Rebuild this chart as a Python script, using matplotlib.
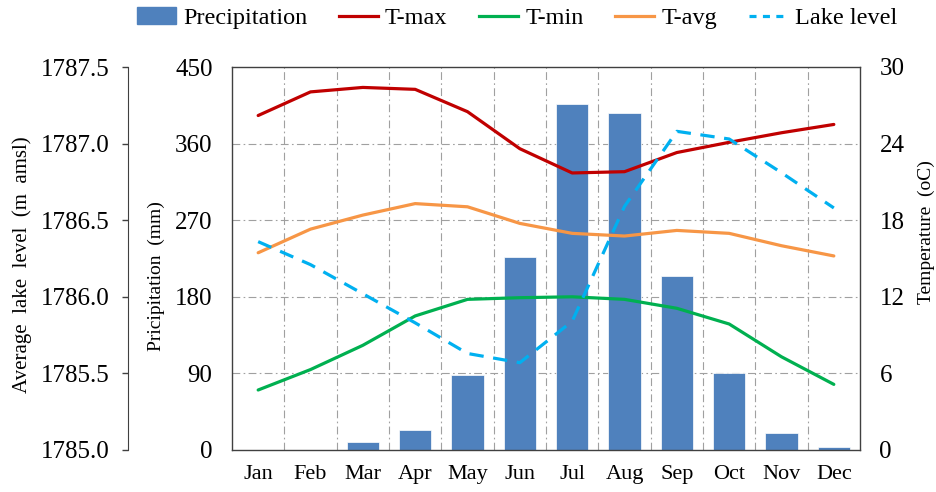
import numpy as np
import matplotlib
matplotlib.use("Agg")
import matplotlib.pyplot as plt
from matplotlib.patches import Patch
from matplotlib.lines import Line2D

plt.rcParams['font.family'] = ['Liberation Serif', 'DejaVu Serif']

months = ["Jan", "Feb", "Mar", "Apr", "May", "Jun",
          "Jul", "Aug", "Sep", "Oct", "Nov", "Dec"]
precip = [0, 0, 9, 23, 88, 227, 407, 396, 204, 91, 20, 4]
t_max = [26.2, 28.05, 28.4, 28.25, 26.5, 23.6, 21.7, 21.8, 23.3, 24.1, 24.85, 25.5]
t_min = [4.7, 6.3, 8.2, 10.5, 11.8, 11.93, 12.0, 11.8, 11.1, 9.87, 7.3, 5.14]
t_avg = [15.45, 17.3, 18.4, 19.3, 19.05, 17.75, 16.97, 16.76, 17.2, 16.97, 16.0, 15.2]
lake = [1786.36, 1786.21, 1786.02, 1785.83, 1785.63, 1785.57,
        1785.84, 1786.59, 1787.08, 1787.03, 1786.81, 1786.58]

FS_Y = 18
FS_X = 16
FS_LEG = 17.5
frame_col = "#404040"
grid_kw = dict(color="#a0a0a0", lw=0.8, linestyle=(0, (7, 3, 1.5, 3)))

fig = plt.figure(figsize=(9.36, 4.92), dpi=100)
ax = fig.add_axes([232 / 936, 42 / 492, 628 / 936, 383 / 492])
x = np.arange(len(months))

# precipitation bars on the main axis
ax.bar(x, precip, width=0.62, color="#4f81bd", edgecolor="white", linewidth=0.5, zorder=2)
ax.set_xlim(-0.5, 11.5)
ax.set_ylim(0, 450)
ax.set_yticks([0, 90, 180, 270, 360, 450])
ax.set_xticks(x)
ax.set_xticklabels(months)
ax.tick_params(axis="y", length=0, pad=14, labelsize=FS_Y)
ax.tick_params(axis="x", length=0, pad=11, labelsize=FS_X)
for v in [90, 180, 270, 360]:
    ax.axhline(v, zorder=0, **grid_kw)
for v in np.arange(0.5, 11.5, 1):
    ax.axvline(v, zorder=0, **grid_kw)
for s in ax.spines.values():
    s.set_color(frame_col)
    s.set_linewidth(1.0)
ax.set_ylabel("Pricipitation  (mm)", fontsize=14, va="center")
ax.yaxis.set_label_coords(-0.121, 0.454)

# temperature on the right
axt = ax.twinx()
axt.plot(x, t_max, color="#c00000", lw=2.3, solid_capstyle="round")
axt.plot(x, t_min, color="#00b050", lw=2.3, solid_capstyle="round")
axt.plot(x, t_avg, color="#f79646", lw=2.3, solid_capstyle="round")
axt.set_ylim(0, 30)
axt.set_yticks([0, 6, 12, 18, 24, 30])
axt.tick_params(axis="y", length=0, pad=14, labelsize=FS_Y)
for s in axt.spines.values():
    s.set_visible(False)
axt.set_ylabel("Temperature  (oC)", fontsize=14, va="center")
axt.yaxis.set_label_coords(1.105, 0.569)

# lake level on an offset left axis
axl = ax.twinx()
axl.plot(x, lake, color="#00b0f0", lw=2.3, dashes=(4.5, 3.0))
axl.set_ylim(1785.0, 1787.5)
axl.set_yticks([1785.0, 1785.5, 1786.0, 1786.5, 1787.0, 1787.5])
axl.set_yticklabels(["%.1f" % v for v in axl.get_yticks()])
axl.yaxis.set_ticks_position("left")
axl.yaxis.set_label_position("left")
for name, s in axl.spines.items():
    s.set_visible(name == "left")
axl.spines["left"].set_position(("outward", 75))
axl.spines["left"].set_color(frame_col)
axl.tick_params(axis="y", direction="out", length=4, width=1, color=frame_col,
                pad=9, labelsize=FS_Y)
axl.set_ylabel("Average  lake  level  (m  amsl)", fontsize=15, va="center")
axl.yaxis.set_label_coords(-0.334, 0.484)

handles = [
    Patch(facecolor="#4f81bd", edgecolor="#4f81bd"),
    Line2D([], [], color="#c00000", lw=2.3),
    Line2D([], [], color="#00b050", lw=2.3),
    Line2D([], [], color="#f79646", lw=2.3),
    Line2D([], [], color="#00b0f0", lw=2.3, dashes=(2.2, 2.0)),
]
labels = ["Precipitation", "T-max", "T-min", "T-avg", "Lake level"]
fig.legend(handles, labels, loc="center", bbox_to_anchor=(517 / 936, 1 - 18 / 492),
           ncol=5, frameon=False, fontsize=FS_LEG, handlelength=1.6,
           handletextpad=0.3, columnspacing=1.3)

fig.savefig("out.png", dpi=100)
